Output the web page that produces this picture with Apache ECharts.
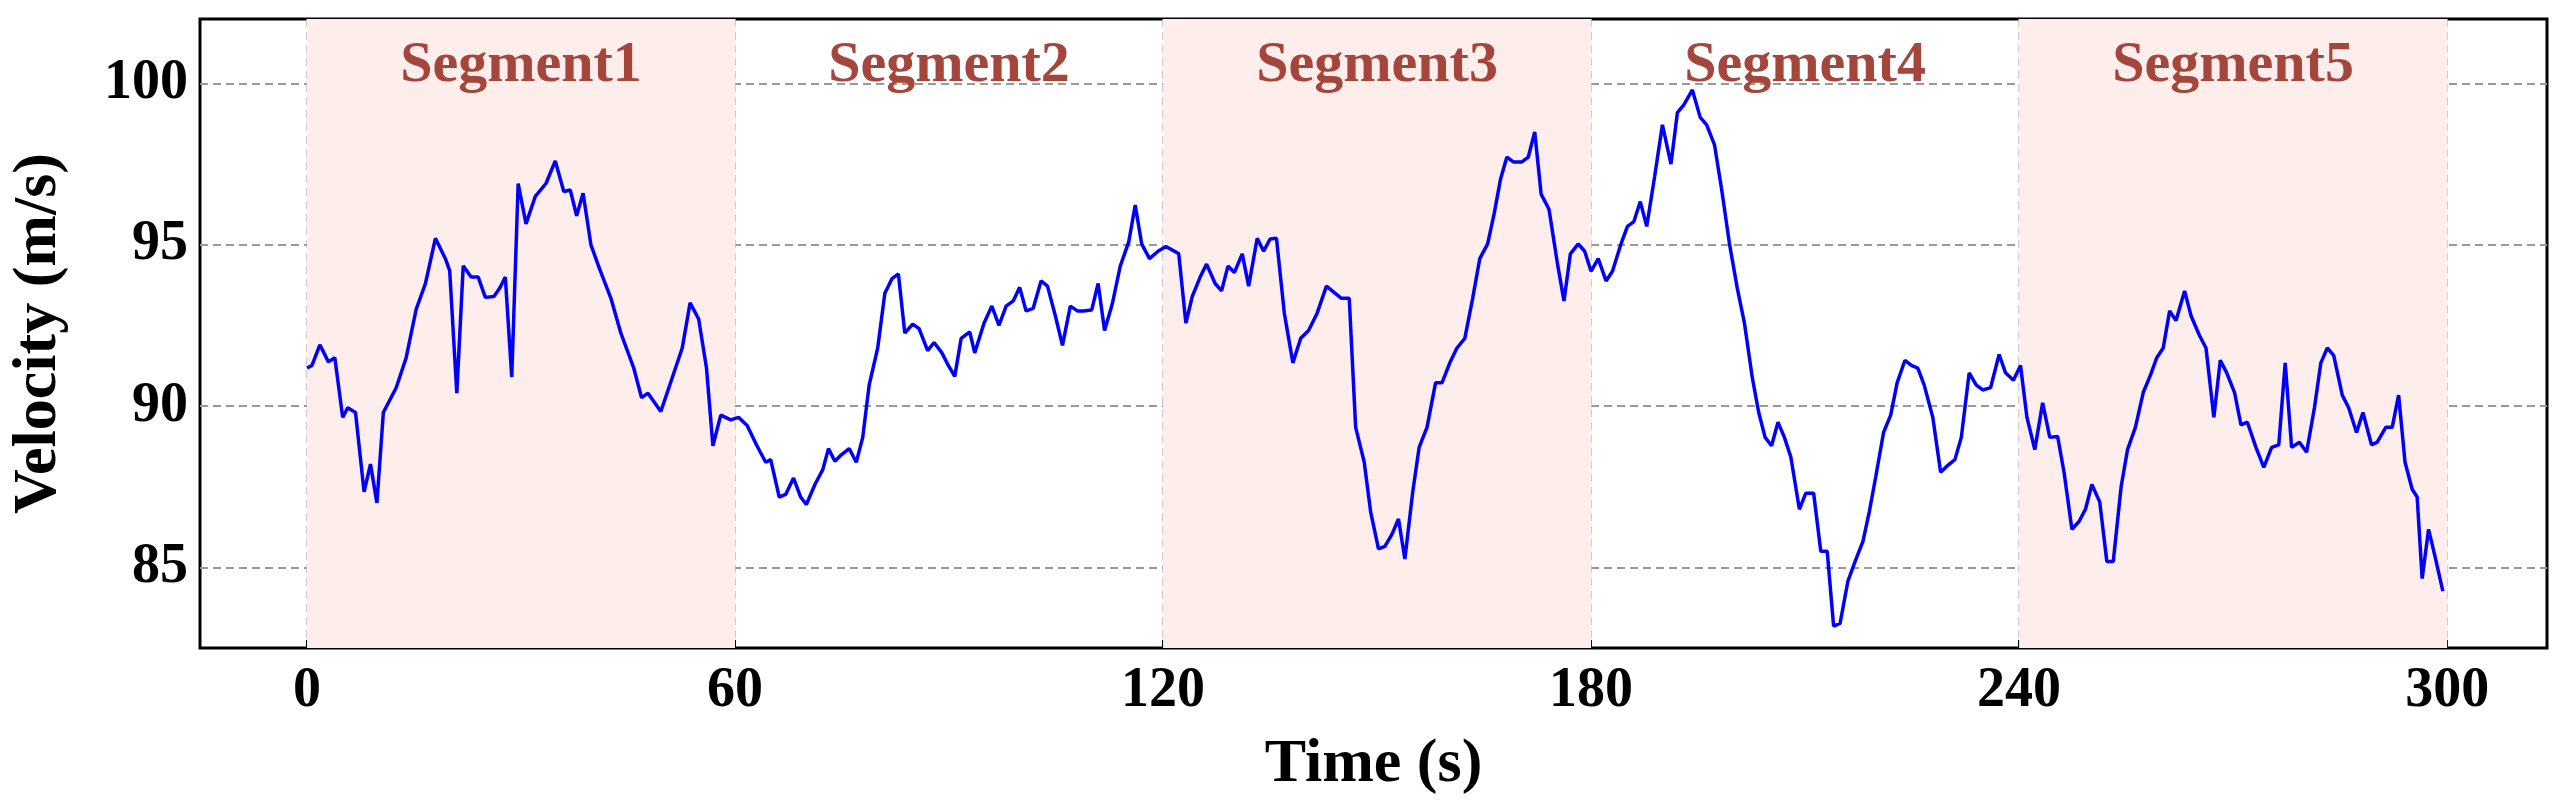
<!DOCTYPE html>
<html>
<head>
<meta charset="utf-8">
<script src="https://cdn.jsdelivr.net/npm/echarts@6/dist/echarts.min.js"></script>
<style>html,body{margin:0;padding:0;background:#fff}#chart{width:2568px;height:801px}</style>
</head>
<body>
<div id="chart"></div>
<script>
var times = [0,0.7,1.8,3,3.9,5,5.7,6.8,8,8.9,9.8,10.7,12.5,13.9,15.3,16.6,18,19.4,20,21,21.9,23,24,25,26.2,27,27.8,28.7,29.6,30.7,32,33.5,34.8,36,36.9,37.8,38.7,39.8,41,42.6,44,45.8,46.9,47.8,49.6,51.2,52.6,53.7,54.9,56,56.9,58,59.4,60.5,61.7,63,64.3,65,66.2,67.1,68.2,69.2,70,71.2,72.3,73.1,74,74.9,76,77,77.9,78.8,80,81,82,82.9,83.8,84.9,85.8,87,87.9,89,89.9,90.8,91.7,92.9,93.6,94.9,96,97,98,99,99.9,100.8,101.8,102.9,103.8,104.9,105.9,107,108,108.8,110,110.9,111.8,112.9,114,115.2,116.1,117,118.1,119.3,120.4,121.6,122.2,123.2,124.1,125.2,126.1,127.3,128.2,129.1,130,131.1,132,133.2,134.1,135,135.9,137,138.2,139.3,140.4,141.6,142.9,144.1,145,146.1,147,148.2,149.1,150.2,151.1,152.1,153,153.9,155,155.9,157,158.2,159.1,160.2,161.2,162.3,163.4,164.4,165.5,166.4,167.3,168.2,169.1,170.3,171.2,172.1,173,174.1,175.3,176.2,177.1,178.2,179.1,180,181,182.1,183,184.2,185.1,186,186.9,187.8,188.9,190,191.2,192.1,193,194.2,195.3,196.2,197.3,198.3,199.4,200.5,201.5,202.6,203.5,204.4,205.3,206.2,207.1,208,209.2,210.1,211.2,212.2,213.1,214,214.9,216,217,218.1,219,219.9,221,222,222.9,224,224.9,225.8,226.7,227.9,229,230.1,231,231.9,233,234,234.9,236,237.2,238.1,239.2,240.2,241.1,242.2,243.3,244.3,245.4,246.3,247.4,248.4,249.3,250.2,251.3,252.3,253.2,254.3,255.2,256.3,257.4,258.4,259.3,260.2,261.1,262,263.2,264.1,265.3,266.2,267.3,268.2,269.1,270.2,271.1,272,273.2,274.3,275.4,276.4,277.3,278.2,279.3,280.3,281.4,282.3,283.2,284.1,285.3,286.2,287.3,288.2,289.4,290.2,291.4,292.3,293.2,294.1,295.1,295.8,296.5,297.4,298.3,299.4];
var velocity = [91.18,91.26,91.9,91.37,91.5,89.65,89.95,89.8,87.34,88.2,87.0,89.8,90.57,91.5,93.0,93.8,95.2,94.57,94.2,90.4,94.35,94.0,94.0,93.37,93.4,93.65,94.0,90.9,96.9,95.65,96.5,96.9,97.6,96.65,96.7,95.9,96.6,95.0,94.26,93.34,92.26,91.18,90.26,90.4,89.83,90.88,91.8,93.2,92.7,91.18,88.77,89.72,89.57,89.65,89.4,88.8,88.26,88.34,87.18,87.26,87.77,87.18,86.95,87.57,88.03,88.68,88.29,88.49,88.68,88.26,89.03,90.65,91.8,93.5,93.95,94.1,92.26,92.54,92.4,91.72,91.97,91.65,91.26,90.92,92.1,92.3,91.65,92.57,93.1,92.5,93.1,93.26,93.68,92.95,93.03,93.88,93.72,92.8,91.88,93.1,92.95,92.95,92.98,93.8,92.34,93.18,94.34,95.1,96.23,95.03,94.57,94.8,94.95,94.8,94.72,92.57,93.4,94.0,94.4,93.8,93.57,94.34,94.14,94.72,93.72,95.2,94.8,95.18,95.2,92.88,91.34,92.1,92.34,92.88,93.72,93.5,93.34,93.34,89.34,88.26,86.72,85.57,85.65,86.03,86.5,85.26,87.34,88.72,89.34,90.72,90.72,91.34,91.8,92.1,93.34,94.57,95.03,95.95,97.03,97.72,97.57,97.57,97.72,98.5,96.57,96.1,94.4,93.26,94.72,95.03,94.8,94.18,94.57,93.88,94.18,95.03,95.57,95.72,96.34,95.57,97.1,98.72,97.5,99.1,99.34,99.8,98.95,98.72,98.1,96.72,95.03,93.65,92.57,90.88,89.8,89.03,88.77,89.5,89.03,88.42,86.8,87.3,87.3,85.5,85.5,83.18,83.26,84.57,85.18,85.8,86.72,87.8,89.18,89.72,90.72,91.42,91.26,91.18,90.65,89.65,87.95,88.18,88.34,89.03,91.03,90.65,90.5,90.57,91.6,91.03,90.8,91.26,89.65,88.65,90.1,89.03,89.06,87.95,86.18,86.42,86.8,87.57,87.03,85.18,85.18,87.5,88.65,89.34,90.42,90.95,91.5,91.8,92.95,92.65,93.57,92.8,92.18,91.8,89.65,91.42,91.03,90.42,89.42,89.5,88.72,88.1,88.72,88.8,91.34,88.72,88.88,88.57,89.95,91.34,91.8,91.57,90.34,89.95,89.18,89.8,88.8,88.88,89.34,89.34,90.34,88.26,87.42,87.18,84.65,86.18,85.34,84.26];
var segmentNames = ['Segment1','Segment2','Segment3','Segment4','Segment5'];
var segmentBounds = [0,60,120,180,240,300];
var xTicks = [0,60,120,180,240,300];
var yTicks = [85,90,95,100];

var font = 'Liberation Serif';
var points = times.map(function(t, i){ return [t, velocity[i]]; });
var areas = segmentNames.map(function(name, i){
  return [{
    xAxis: segmentBounds[i],
    name: name,
    itemStyle: { color: i % 2 === 0 ? '#fdeeec' : 'rgba(0,0,0,0)' }
  }, { xAxis: segmentBounds[i + 1] }];
});

var chart = echarts.init(document.getElementById('chart'));
chart.setOption({
  animation: false,
  grid: { left: 177, right: 21, top: 19, bottom: 134, show: true, borderColor: '#000', borderWidth: 3, backgroundColor: 'transparent' },
  xAxis: {
    type: 'value', min: -15, max: 314,
    name: 'Time (s)', nameLocation: 'middle', nameGap: 86,
    nameTextStyle: { fontFamily: font, fontWeight: 'bold', fontSize: 62, color: '#000' },
    axisLine: { show: false },
    axisTick: { show: true, inside: true, length: 8, lineStyle: { color: '#000', width: 2 }, customValues: xTicks },
    axisLabel: { fontFamily: font, fontWeight: 'bold', fontSize: 56, color: '#000', margin: 16, customValues: xTicks },
    splitLine: { show: true, lineStyle: { color: '#bbb', type: [8, 5], width: 1.5 } }
  },
  yAxis: {
    type: 'value', min: 82.5, max: 102,
    name: 'Velocity (m/s)', nameLocation: 'middle', nameGap: 130,
    nameTextStyle: { fontFamily: font, fontWeight: 'bold', fontSize: 62, color: '#000' },
    axisLine: { show: false },
    axisTick: { show: true, inside: true, length: 8, lineStyle: { color: '#000', width: 2 }, customValues: yTicks },
    axisLabel: { fontFamily: font, fontWeight: 'bold', fontSize: 56, color: '#000', margin: 12, customValues: yTicks },
    splitLine: { show: true, lineStyle: { color: '#999', type: [8, 5], width: 2 } }
  },
  series: [{
    type: 'line', data: points, showSymbol: false,
    lineStyle: { color: '#0000ff', width: 3.5 },
    markArea: {
      silent: true,
      label: { show: true, position: 'insideTop', distance: 18, fontFamily: font, fontWeight: 'bold', fontSize: 58, color: '#a4463c' },
      data: areas
    }
  }]
});
</script>
</body>
</html>
